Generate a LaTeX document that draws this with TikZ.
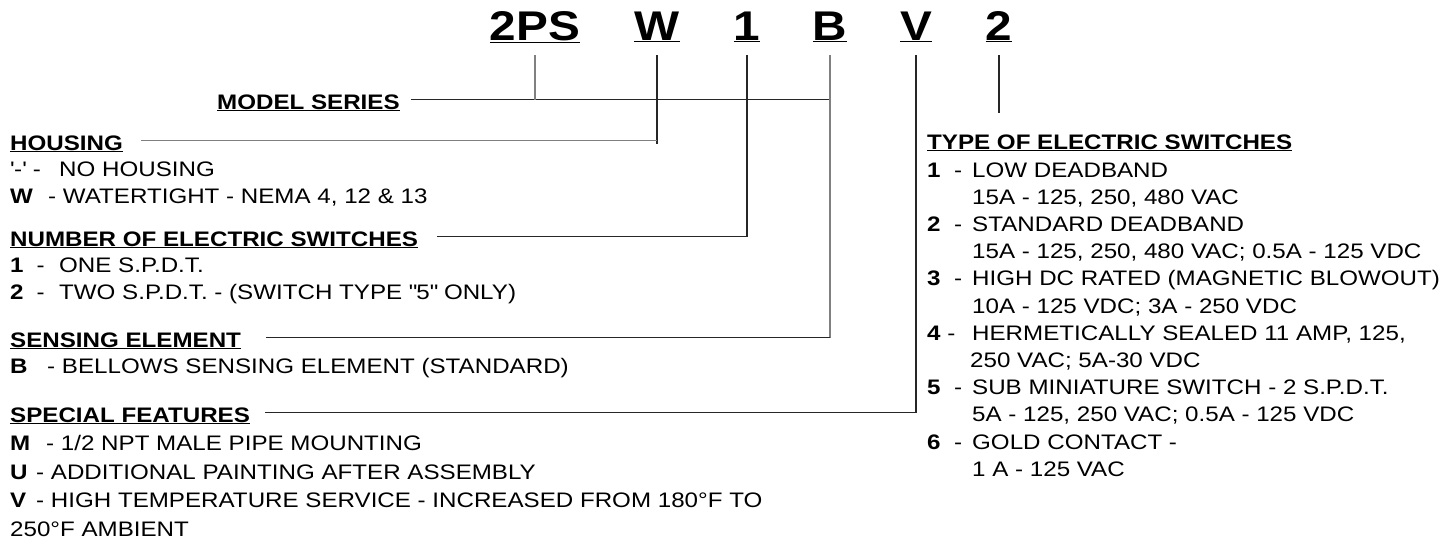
\documentclass[tikz,border=0pt]{standalone}
\usepackage{fontspec}
\setmainfont{Liberation Sans}[FakeStretch=1.15]
\usetikzlibrary{positioning}

\newcommand{\lbl}[1]{\makebox[45pt][l]{\textbf{#1}\ \ -}}
\newcommand{\cont}{\hspace*{45pt}}
\newcommand{\key}[2]{\makebox[#1][l]{\textbf{#2}}}

\begin{document}
\begin{tikzpicture}[x=1pt, y=-1pt,
    code/.style={anchor=base, inner sep=0pt, font=\fontsize{41.5}{46}\selectfont\bfseries},
    head/.style={anchor=base west, inner sep=0pt, font=\fontsize{21}{26}\selectfont\bfseries},
    items/.style={anchor=base west, inner sep=0pt, align=left, font=\fontsize{21}{26.5}\selectfont},
    lead/.style={draw=black!85, line width=1.3pt},
    leadgray/.style={draw=black!50, line width=1.3pt}
]
    \useasboundingbox (0,0) rectangle (1456,544);

    % model code
    \node[code] (c2PS) at (535,40) {\underline{2PS}};
    \node[code] (cW) at (657,40) {\underline{W}};
    \node[code] (c1) at (747,40) {\underline{1}};
    \node[code] (cB) at (830,40) {\underline{B}};
    \node[code] (cV) at (916,40) {\underline{V}};
    \node[code] (c2) at (999,40) {\underline{2}};

    \coordinate (t2PS) at ([yshift=-15pt]c2PS.base);
    \coordinate (tW) at ([yshift=-15pt]cW.base);
    \coordinate (t1) at ([yshift=-15pt]c1.base);
    \coordinate (tB) at ([yshift=-15pt]cB.base);
    \coordinate (tV) at ([yshift=-15pt]cV.base);
    \coordinate (t2) at ([yshift=-15pt]c2.base);
    \coordinate (b2) at (999,113);

    % left column (items anchored on their last line)
    \node[head] (hModel) at (217,109) {\underline{MODEL SERIES}};

    \node[head] (hHousing) at (10,150) {\underline{HOUSING}};
    \node[items] (iHousing) at (10,203)
        {\makebox[49pt][l]{\textquotesingle-\textquotesingle\ -}NO HOUSING\\
         \key{38pt}{W}- WATERTIGHT - NEMA 4, 12 \& 13};

    \node[head] (hNumber) at (10,246) {\underline{NUMBER OF ELECTRIC SWITCHES}};
    \node[items] (iNumber) at (10,299)
        {\makebox[49pt][l]{\textbf{1}\hspace{13pt}-}ONE S.P.D.T.\\
         \makebox[49pt][l]{\textbf{2}\hspace{13pt}-}TWO S.P.D.T. - (SWITCH TYPE \textquotedbl5\textquotedbl\ ONLY)};

    \node[head] (hSensing) at (10,347) {\underline{SENSING ELEMENT}};
    \node[items] (iSensing) at (10,373.5)
        {\key{37pt}{B}- BELLOWS SENSING ELEMENT (STANDARD)};

    \node[head] (hSpecial) at (10,422) {\underline{SPECIAL FEATURES}};
    \node[items, font=\fontsize{21}{28.5}\selectfont] (iSpecial) at (10,536)
        {\key{36pt}{M}- 1/2 NPT MALE PIPE MOUNTING\\
         \key{26pt}{U}- ADDITIONAL PAINTING AFTER ASSEMBLY\\
         \key{26pt}{V}- HIGH TEMPERATURE SERVICE - INCREASED FROM 180°F TO\\
         250°F AMBIENT};

    % right column
    \node[head] (hType) at (927,149) {\underline{TYPE OF ELECTRIC SWITCHES}};
    \node[items, font=\fontsize{21}{27.2}\selectfont] (iType) at (927,476.2)
        {\lbl{1}LOW DEADBAND\\
         \cont 15A - 125, 250, 480 VAC\\
         \lbl{2}STANDARD DEADBAND\\
         \cont 15A - 125, 250, 480 VAC; 0.5A - 125 VDC\\
         \lbl{3}HIGH DC RATED (MAGNETIC BLOWOUT)\\
         \cont 10A - 125 VDC; 3A - 250 VDC\\
         \makebox[45pt][l]{\textbf{4} -}HERMETICALLY SEALED 11 AMP, 125,\\
         \hspace*{43pt}250 VAC; 5A-30 VDC\\
         \lbl{5}SUB MINIATURE SWITCH - 2 S.P.D.T.\\
         \cont 5A - 125, 250 VAC; 0.5A - 125 VDC\\
         \lbl{6}GOLD CONTACT -\\
         \cont 1 A - 125 VAC};

    % leader lines
    \coordinate (mL) at ([xshift=11pt,yshift=3pt]hModel.east);
    \draw[lead] (mL) -- (tB |- mL);
    \draw[leadgray] (t2PS) -- (t2PS |- mL);
    \draw[lead] (tW) -- (tW |- hHousing.east);
    \draw[leadgray] ([yshift=3pt]tW |- hHousing.east) -- ([xshift=18pt,yshift=3pt]hHousing.east);
    \draw[lead] (t1) |- ([xshift=19pt,yshift=3pt]hNumber.east);
    \draw[leadgray] (tB) -- ([yshift=3pt]tB |- hSensing.east);
    \draw[lead] ([yshift=3pt]tB |- hSensing.east) -- ([xshift=25pt,yshift=3pt]hSensing.east);
    \draw[lead] (tV) |- ([xshift=15pt,yshift=3pt]hSpecial.east);
    \draw[lead] (t2) -- (b2);
\end{tikzpicture}
\end{document}
